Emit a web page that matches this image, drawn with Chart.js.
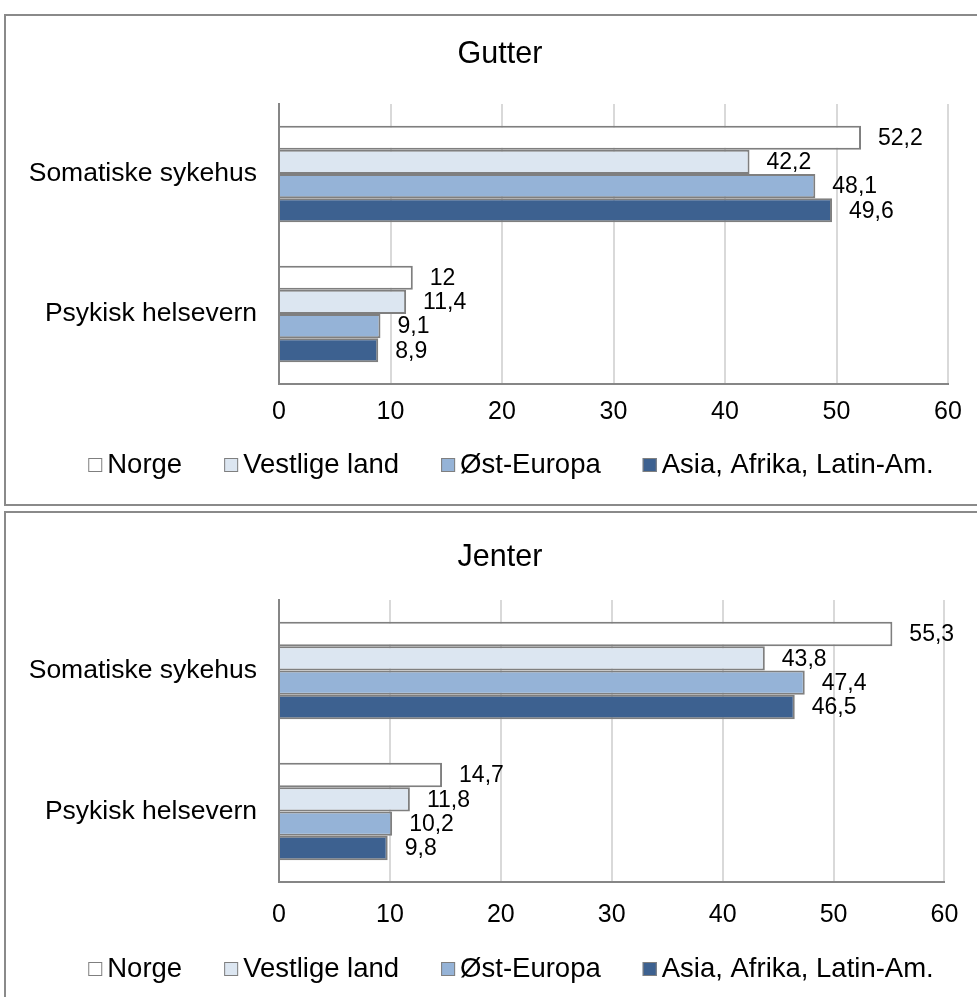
<!DOCTYPE html>
<html lang="no">
<head>
<meta charset="utf-8">
<title>Gutter og jenter</title>
<script src="https://cdn.jsdelivr.net/npm/chart.js@4.4.1/dist/chart.umd.min.js"></script>
<style>
  html, body { margin: 0; padding: 0; background: #fff; width: 977px; height: 997px; overflow: hidden; }
  .frame { position: absolute; left: 4px; width: 1000px; border: 2px solid #8a8a8a; box-sizing: border-box; }
  #frame1 { top: 14px; height: 492px; }
  #frame2 { top: 511px; height: 520px; }
  .wrap { position: absolute; left: 0; width: 977px; }
  #wrap1 { top: 0; height: 505px; }
  #wrap2 { top: 505px; height: 492px; }
</style>
</head>
<body>
<div class="frame" id="frame1"></div>
<div class="frame" id="frame2"></div>
<div class="wrap" id="wrap1"><canvas id="chartGutter"></canvas></div>
<div class="wrap" id="wrap2"><canvas id="chartJenter"></canvas></div>
<script>
// Kategorier og serier
const categories = ['Somatiske sykehus', 'Psykisk helsevern'];
const seriesNames = ['Norge', 'Vestlige land', 'Øst-Europa', 'Asia, Afrika, Latin-Am.'];

// Gutter
const gutterNorge = [52.2, 12];
const gutterVestligeLand = [42.2, 11.4];
const gutterOstEuropa = [48.1, 9.1];
const gutterAsiaAfrikaLatinAm = [49.6, 8.9];

// Jenter
const jenterNorge = [55.3, 14.7];
const jenterVestligeLand = [43.8, 11.8];
const jenterOstEuropa = [47.4, 10.2];
const jenterAsiaAfrikaLatinAm = [46.5, 9.8];

// Verdiakse
const axisMin = 0;
const axisMax = 60;
const axisStep = 10;

const FONT = "'Liberation Sans', Arial, Helvetica, sans-serif";
const seriesColors = ['#ffffff', '#dce6f1', '#95b3d7', '#3d6190'];
const barBorder = '#7f7f7f';
const axisLine = '#868686';

const fmt = v => String(v).replace('.', ',');

// Diagramtittel, sentrert over hele rammen
const frameTitle = {
  id: 'frameTitle',
  afterDraw(chart, args, opts) {
    const ctx = chart.ctx;
    ctx.save();
    ctx.font = opts.size + 'px ' + FONT;
    ctx.fillStyle = '#000';
    ctx.textAlign = 'center';
    ctx.textBaseline = 'middle';
    ctx.fillText(opts.text, opts.centerX, opts.y);
    ctx.restore();
  }
};

// Verdietiketter til høyre for hver stolpe
const valueLabels = {
  id: 'valueLabels',
  afterDatasetsDraw(chart, args, opts) {
    const ctx = chart.ctx;
    ctx.save();
    ctx.font = opts.size + 'px ' + FONT;
    ctx.fillStyle = '#000';
    ctx.textAlign = 'left';
    ctx.textBaseline = 'middle';
    chart.data.datasets.forEach((ds, i) => {
      const meta = chart.getDatasetMeta(i);
      meta.data.forEach((bar, j) => {
        ctx.fillText(fmt(ds.data[j]), bar.x + opts.offset, bar.y + 1);
      });
    });
    ctx.restore();
  }
};

// Forklaring under diagrammet: liten rute + tekst
const boxLegend = {
  id: 'boxLegend',
  afterDraw(chart, args, opts) {
    const ctx = chart.ctx;
    ctx.save();
    ctx.font = opts.size + 'px ' + FONT;
    ctx.textBaseline = 'middle';
    ctx.textAlign = 'left';
    const items = chart.data.datasets.map(ds => ({
      text: ds.label, color: ds.backgroundColor,
      w: opts.box + opts.textGap + ctx.measureText(ds.label).width
    }));
    const total = items.reduce((s, it) => s + it.w, 0) + opts.gap * (items.length - 1);
    let x = opts.centerX - total / 2;
    const y = opts.y;
    items.forEach(it => {
      ctx.fillStyle = it.color;
      ctx.fillRect(x, y - opts.box / 2, opts.box, opts.box);
      ctx.strokeStyle = barBorder;
      ctx.lineWidth = 1;
      ctx.strokeRect(x + 0.5, y - opts.box / 2 + 0.5, opts.box - 1, opts.box - 1);
      ctx.fillStyle = '#000';
      ctx.fillText(it.text, x + opts.box + opts.textGap, y);
      x += it.w + opts.gap;
    });
    ctx.restore();
  }
};

function makeChart(canvasId, title, seriesData, layout) {
  const datasets = seriesData.map((data, i) => ({
    label: seriesNames[i],
    data: data,
    backgroundColor: seriesColors[i],
    borderColor: barBorder,
    borderWidth: 2,
    categoryPercentage: 0.69,
    barPercentage: 1.0
  }));
  return new Chart(document.getElementById(canvasId), {
    type: 'bar',
    data: { labels: categories, datasets },
    plugins: [frameTitle, valueLabels, boxLegend],
    options: {
      indexAxis: 'y',
      responsive: true,
      maintainAspectRatio: false,
      animation: false,
      devicePixelRatio: 1,
      layout: { padding: { left: 0, right: 29, top: layout.plotTop, bottom: layout.padBottom } },
      plugins: {
        legend: { display: false },
        tooltip: { enabled: false },
        title: { display: false },
        frameTitle: { text: title, size: 30.5, centerX: 500, y: layout.titleY },
        valueLabels: { size: 23, offset: 17 },
        boxLegend: { size: 27.5, box: 14, textGap: 5, gap: 42, centerX: 511, y: layout.legendY }
      },
      scales: {
        x: {
          min: axisMin, max: axisMax,
          ticks: { stepSize: axisStep, color: '#000', padding: layout.tickPad,
                   font: { family: FONT, size: 25 } },
          grid: { color: '#d9d9d9', lineWidth: 2, drawTicks: false },
          border: { display: true, color: axisLine, width: 2 },
          afterFit(scale) { scale.height = layout.xAxisHeight; }
        },
        y: {
          ticks: { color: '#000', padding: 22, font: { family: FONT, size: 26.5 } },
          grid: { display: false, drawTicks: false },
          border: { display: true, color: axisLine, width: 2 },
          afterFit(scale) { scale.width = 279; }
        }
      }
    }
  });
}

makeChart('chartGutter', 'Gutter',
  [gutterNorge, gutterVestligeLand, gutterOstEuropa, gutterAsiaAfrikaLatinAm],
  { titleY: 55, plotTop: 104, padBottom: 71, xAxisHeight: 50, tickPad: 13.6, legendY: 465 });

makeChart('chartJenter', 'Jenter',
  [jenterNorge, jenterVestligeLand, jenterOstEuropa, jenterAsiaAfrikaLatinAm],
  { titleY: 53, plotTop: 95, padBottom: 65, xAxisHeight: 50, tickPad: 18.6, legendY: 464 });
</script>
</body>
</html>
